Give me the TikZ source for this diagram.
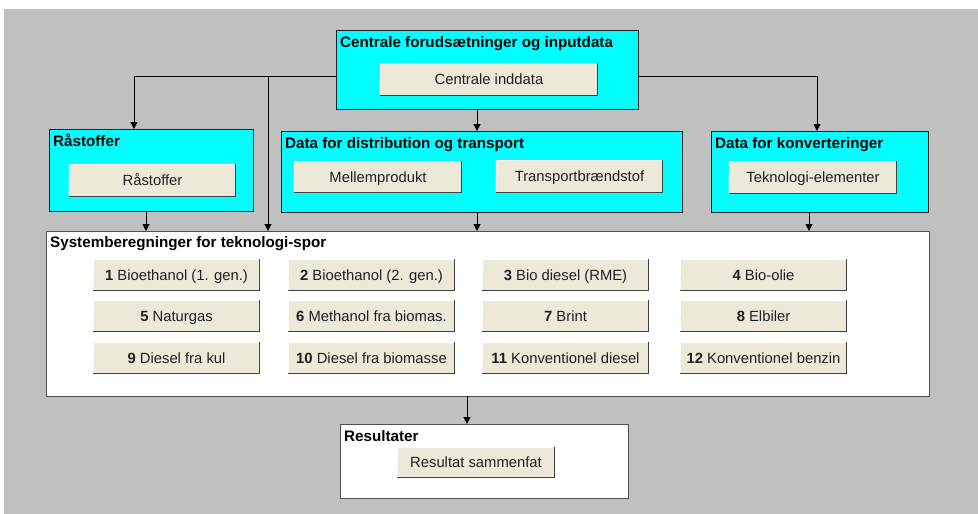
\documentclass[tikz,border=0pt]{standalone}
\usepackage{fontspec}
\setmainfont{Liberation Sans}
\usetikzlibrary{arrows.meta}
\definecolor{bg}{HTML}{C0C0C0}
\definecolor{cyanbox}{HTML}{00FFFF}
\definecolor{btnface}{HTML}{ECE9D8}
\definecolor{btnshade}{HTML}{404040}
\definecolor{panelline}{HTML}{202020}
\definecolor{grayline}{HTML}{505050}
\definecolor{btntext}{HTML}{202020}
\newcommand{\titlefnt}{\fontsize{15.2}{18}\selectfont\bfseries}
\newcommand{\btnfnt}{\fontsize{14.8}{17}\selectfont}
\tikzset{
  panel/.style={draw=panelline, line width=1pt, fill=cyanbox, anchor=north west, inner sep=0pt, outer sep=0pt},
  whitepanel/.style={panel, fill=white, draw=grayline},
  button/.style={fill=btnface, anchor=north west, inner sep=0pt, outer sep=0pt, font=\btnfnt, text=btntext, text height=10.6pt, text depth=0pt, minimum width=167pt, minimum height=32pt},
  paneltitle/.style={anchor=base west, font=\titlefnt, inner sep=0pt, text=black},
  btnshadow/.style={draw=btnshade, line width=1.5pt},
  btnlight/.style={draw=white, line width=1pt},
  conn/.style={draw=black, line width=1pt},
  arr/.style={conn, -{Triangle[width=7pt,length=7pt]}}
}
\begin{document}
\begin{tikzpicture}[x=1pt,y=-1pt]
\useasboundingbox (0,0) rectangle (978,514);
\fill[bg] (4,9) rectangle (978,514);

% top panel
\node[panel, minimum width=302pt, minimum height=79pt] (cen) at (336,30) {};
\node[paneltitle] (cent) at ([xshift=4pt,yshift=-17pt]cen.north west) {Centrale forudsætninger og inputdata};
\node[button, minimum width=218pt, minimum height=33pt] (ci) at (380,63) {Centrale inddata};

% raw materials
\node[panel, minimum width=204pt, minimum height=82pt] (raw) at (49,129) {};
\node[paneltitle] (rawt) at ([xshift=4pt,yshift=-17pt]raw.north west) {Råstoffer};
\node[button, minimum height=33pt] (rawb) at (69,164) {Råstoffer};

% distribution
\node[panel, minimum width=401pt, minimum height=81pt] (dist) at (281,131) {};
\node[paneltitle] (distt) at ([xshift=4pt,yshift=-17pt]dist.north west) {Data for distribution og transport};
\node[button, minimum width=168pt] (mel) at (294,161) {Mellemprodukt};
\node[button, minimum height=33pt] (trn) at (496,160) {Transportbrændstof};

% conversions
\node[panel, minimum width=217pt, minimum height=81pt] (konv) at (711,131) {};
\node[paneltitle] (konvt) at ([xshift=4pt,yshift=-17pt]konv.north west) {Data for konverteringer};
\node[button, minimum width=168pt, minimum height=33pt] (tek) at (729,161) {Teknologi-elementer};

% system calculations
\node[whitepanel, minimum width=883pt, minimum height=165pt] (sys) at (46,231) {};
\node[paneltitle] (syst) at ([xshift=4pt,yshift=-16pt]sys.north west) {Systemberegninger for teknologi-spor};
\node[button] (s1)  at (93,259)  {\textbf{1} Bioethanol (1. gen.)};
\node[button] (s2)  at (288,259) {\textbf{2} Bioethanol (2. gen.)};
\node[button] (s3)  at (482,259) {\textbf{3} Bio diesel (RME)};
\node[button] (s4)  at (680,259) {\textbf{4} Bio-olie};
\node[button] (s5)  at (93,300)  {\textbf{5} Naturgas};
\node[button] (s6)  at (288,300) {\textbf{6} Methanol fra biomas.};
\node[button] (s7)  at (482,300) {\textbf{7} Brint};
\node[button] (s8)  at (680,300) {\textbf{8} Elbiler};
\node[button] (s9)  at (93,342)  {\textbf{9} Diesel fra kul};
\node[button] (s10) at (288,342) {\textbf{10} Diesel fra biomasse};
\node[button] (s11) at (482,342) {\textbf{11} Konventionel diesel};
\node[button] (s12) at (680,342) {\textbf{12} Konventionel benzin};

% results
\node[whitepanel, minimum width=288pt, minimum height=74pt] (res) at (340,424) {};
\node[paneltitle] (rest) at ([xshift=4pt,yshift=-17pt]res.north west) {Resultater};
\node[button, minimum width=158pt, minimum height=31pt] (resb) at (397,447) {Resultat sammenfat};

% button bevels
\foreach \b in {ci,rawb,mel,trn,tek,s1,s2,s3,s4,s5,s6,s7,s8,s9,s10,s11,s12,resb}{
  \draw[btnlight] ([yshift=0.5pt]\b.south west) -- ([yshift=-0.5pt,xshift=0.5pt]\b.north west) -- ([yshift=-0.5pt]\b.north east);
  \draw[btnshadow] ([xshift=-0.75pt]\b.north east) -- ([xshift=-0.75pt,yshift=0.75pt]\b.south east) -- ([yshift=0.75pt]\b.south west);
}

% connectors
\coordinate (jl) at (134,76);
\coordinate (jm) at (268,76);
\coordinate (jr) at (817,76);
\coordinate (jc) at (477,0);
\coordinate (ja) at (146,0);
\coordinate (jk) at (809,0);
\coordinate (js) at (467,0);
\draw[arr] (cen.west |- jl) -| (raw.north -| jl);
\draw[arr] (jm) -- (sys.north -| jm);
\draw[arr] (cen.east |- jr) -| (konv.north -| jr);
\draw[arr] (cen.south -| jc) -- (dist.north -| jc);
\draw[arr] (raw.south -| ja) -- (sys.north -| ja);
\draw[arr] (dist.south -| jc) -- (sys.north -| jc);
\draw[arr] (konv.south -| jk) -- (sys.north -| jk);
\draw[arr] (sys.south -| js) -- (res.north -| js);
\end{tikzpicture}
\end{document}
